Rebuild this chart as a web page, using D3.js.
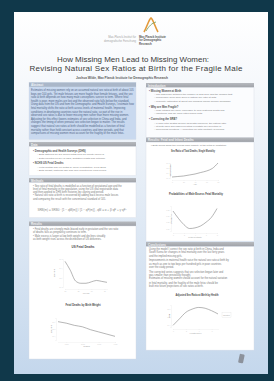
<!DOCTYPE html>
<html>
<head>
<meta charset="utf-8">
<script src="https://cdn.jsdelivr.net/npm/d3@7"></script>
<style>
body{margin:0;background:#10384a;overflow:hidden}
text{font-family:"Liberation Sans",Arial,sans-serif}
</style>
</head>
<body>
<script>
// ---- poster text ----
var titleLines = ["How Missing Men Lead to Missing Women:", "Revising Natural Sex Ratios at Birth for the Fragile Male"];
var authorLine = "Joshua Wilde, Max Planck Institute for Demographic Research";
var instituteDe = ["Max-Planck-Institut für", "demografische Forschung"];
var instituteEn = ["Max Planck Institute", "for Demographic", "Research"];
var headerNames = ["Abstract", "Data", "Methods", "Results", "Introduction", "Results: Fetal and Infant Deaths", "Conclusions"];

var abstractLines = [
  "Estimates of missing women rely on an assumed natural sex ratio at birth of about 105",
  "boys per 100 girls. Yet male fetuses are more fragile than female fetuses, and the sex",
  "ratio at birth depends on how many male conceptions survive to term. Where fetal",
  "health is poor, more males are lost and the observed ratio falls below the standard.",
  "Using data from the US and from the Demographic and Health Surveys, I estimate how",
  "fetal mortality shifts the ratio at birth across levels of maternal health. Improving",
  "conditions in developing countries raise the natural ratio, so part of the rise in",
  "observed sex ratios is due to fewer missing men rather than more missing women.",
  "Adjusting for this effect lowers estimates of sex selection in China and India, and",
  "changes the timing of when prenatal sex selection began to matter. The results",
  "suggest that natural sex ratios at birth should be modelled as a function of fetal",
  "mortality rather than held constant across countries and time periods, and that",
  "comparisons of missing women must account for the fragility of the male fetus."
];
var dataBlocks = [
  {head: "Demographic and Health Surveys (DHS)", lines: ["Birth histories for 2.5 million births from 87 country surveys", "Data reported on sex of child, gestation length and outcome"]},
  {head: "NCHS US Fetal Deaths", lines: ["Fetal deaths and live births by week of gestation, 1995-2005", "Birth weight, maternal age and race reported for each record"]}
];
var methodsLines = [
  "Sex ratio of fetal deaths is modelled as a function of gestational age and the",
  "level of fetal mortality in the population, using the US vital registration data",
  "and then applied to DHS birth histories by country and period.",
  "Natural sex ratio at birth is recovered by adding back excess male losses",
  "and comparing the result with the conventional standard of 105."
];
var methodsFormula = "SRB(m) = SRB0 · [1 − qM(m)] / [1 − qF(m)] ,  qM = α + β·qF + γ·qF²";
var resultsLeftLines = [
  "Fetal deaths are strongly male-biased early in gestation and the sex ratio",
  "of deaths falls as pregnancy continues to term.",
  "Male excess is larger at low birth weight and declines steadily",
  "as birth weight rises across the distribution of US deliveries."
];
var introBlocks = [
  {head: "Missing Women at Birth", lines: ["The difference between the number of girls born and the number that", "would have been born given a natural sex ratio at birth", "Currently estimated at about one hundred million women worldwide"]},
  {head: "Why are Men Fragile?", lines: ["Male fetuses are more vulnerable to poor maternal health and", "infections, and die more often before birth"]},
  {head: "Correcting the SRB?", lines: ["If male fetal deaths decline as health improves, the natural ratio", "at birth rises and observed ratios overstate sex selection in", "developing countries. A correction for fetal mortality is needed"]}
];
var resultsRightIntro = "Both series show the excess male fragility of the fetus by gestation";
var conclusionLines = [
  "Using the model I correct the sex ratio at birth in China, India and",
  "South Korea for changes in fetal mortality over the last forty years",
  "and the implied missing girls.",
  "Improvements in maternal health raise the natural sex ratio at birth by",
  "as much as one to two boys per hundred girls in poor countries",
  "over the study period.",
  "The corrected series suggests that sex selection began later and",
  "was smaller than previously thought.",
  "Estimates of missing women should account for the natural variation",
  "in fetal mortality, and the fragility of the male fetus should be",
  "built into future projections of sex ratios at birth."
];

// ---- chart series ----
var fetalWeeks = [20, 22, 24, 26, 28, 30, 32, 34, 36];
var fetalDeathRatio = [1.55, 1.36, 1.13, 1.08, 1.08, 1.11, 1.14, 1.12, 1.10];
var birthWeight = [500, 1000, 1500, 2000, 2500, 3000, 3500, 4000];
var weightDeathRatio = [1.30, 1.28, 1.25, 1.23, 1.19, 1.16, 1.13, 1.10];
var ageGroups = [0, 10, 20, 30, 40, 50, 60, 70, 80];
var totalDeathRatio = [1.02, 1.03, 1.04, 1.06, 1.08, 1.11, 1.14, 1.19, 1.30];
var mortalityLevel = [0, 1, 2, 3, 4, 5, 6, 7, 8];
var excessMaleProb = [1.14, 1.08, 1.03, 1.00, 1.005, 1.02, 1.05, 1.09, 1.16];
var healthIndex = [0, 1, 2, 3, 4, 5, 6, 7];
var adjustedSRB = [1.00, 1.08, 1.16, 1.20, 1.22, 1.21, 1.18, 1.14];

var W = 274, H = 381;
var svg = d3.select("body").append("svg").attr("width", W).attr("height", H);
var defs = svg.append("defs");
var g1 = defs.append("linearGradient").attr("id", "bg").attr("x1", 0).attr("y1", 0).attr("x2", 0).attr("y2", 1);
g1.append("stop").attr("offset", 0).attr("stop-color", "#ffffff");
g1.append("stop").attr("offset", 0.3).attr("stop-color", "#f1f5fa");
g1.append("stop").attr("offset", 1).attr("stop-color", "#c4d7ec");
var g2 = defs.append("linearGradient").attr("id", "hd").attr("x1", 0).attr("y1", 0).attr("x2", 0).attr("y2", 1);
g2.append("stop").attr("offset", 0).attr("stop-color", "#b7babf");
g2.append("stop").attr("offset", 1).attr("stop-color", "#9ea1a7");

svg.append("rect").attr("width", W).attr("height", H).attr("fill", "#10384a");
svg.append("rect").attr("x", 14).attr("y", 12).attr("width", 254).attr("height", 362).attr("fill", "url(#bg)");

// fit a text line into a width, only squeezing when too long
function line(sel, x, y, str, size, maxW, fill, weight, anchor) {
  var t = sel.append("text").attr("x", x).attr("y", y).attr("font-size", size)
    .attr("fill", fill).attr("font-weight", weight || "normal")
    .attr("text-anchor", anchor || "start").text(str);
  if (t.node().getComputedTextLength() > maxW)
    t.attr("textLength", maxW).attr("lengthAdjust", "spacingAndGlyphs");
  return t;
}

// ---- logo + header ----
svg.append("path").attr("d", "M144,32 C147,27 149,19 151,18 C153,19 155,27 158,32")
  .attr("fill", "none").attr("stroke", "#e39a3b").attr("stroke-width", 1.6);
svg.append("path").attr("d", "M146,31 C149,26 152,23 156,22").attr("fill", "none")
  .attr("stroke", "#6f9a5a").attr("stroke-width", 0.8);
instituteDe.forEach(function (s, i) { line(svg, 136, 38 + i * 3.6, s, 2.8, 32, "#a5a5a5", "normal", "end"); });
instituteEn.forEach(function (s, i) { line(svg, 139, 38 + i * 3.4, s, 2.8, 37, "#555", "bold"); });

line(svg, 133, 62, titleLines[0], 8, 152, "#3a3a3a", "normal", "middle").attr("textLength", 152);
line(svg, 136, 71, titleLines[1], 8, 213, "#3a3a3a", "normal", "middle").attr("textLength", 213);
line(svg, 122, 78.5, authorLine, 3.3, 92, "#5a5a5a", "bold", "middle");

// ---- panels ----
function header(x, y, w, name) {
  svg.append("rect").attr("x", x).attr("y", y).attr("width", w).attr("height", 4.6).attr("fill", "url(#hd)");
  line(svg, x + 2, y + 3.5, name, 3, w - 4, "#f2f2f2", "bold");
}
function box(x, y, w, h, fill) {
  svg.append("rect").attr("x", x).attr("y", y).attr("width", w).attr("height", h)
    .attr("fill", fill || "#fff").attr("stroke", "#d6dde7").attr("stroke-width", 0.4);
}

var LX = 29, LW = 107, RX = 146, RW = 108;
var body = "#7a7a7a";
// abstract
box(LX, 82.5, LW, 57, "#c9d9ef");
svg.append("rect").attr("x", LX).attr("y", 82.5).attr("width", LW).attr("height", 4.3).attr("fill", "#aab7c9");
line(svg, LX + 2, 85.9, headerNames[0], 3, 40, "#eef2f7", "bold");
abstractLines.forEach(function (s, i) { line(svg, LX + 2, 91 + i * 3.6, s, 2.7, LW - 4, "#4f6486"); });

// data
header(LX, 142, LW, headerNames[1]);
box(LX, 146.6, LW, 29);
var dy = 151.7;
dataBlocks.forEach(function (b) {
  line(svg, LX + 4, dy, "• " + b.head, 2.7, 60, "#555", "bold"); dy += 3.4;
  b.lines.forEach(function (s) { line(svg, LX + 8, dy, "– " + s, 2.5, LW - 12, body); dy += 3.4; });
  dy += 2.3;
});

// methods
header(LX, 178, LW, headerNames[2]);
box(LX, 182.6, LW, 35);
methodsLines.forEach(function (s, i) { line(svg, LX + 4, 186.5 + i * 3.3, (i == 0 || i == 3 ? "• " : "  ") + s, 2.6, LW - 8, body); });
line(svg, LX + 53, 210.5, methodsFormula, 3, 96, "#8a8a8a", "normal", "middle");

// results left
header(LX, 221.5, LW, headerNames[3]);
box(LX, 226, LW, 133);
resultsLeftLines.forEach(function (s, i) { line(svg, LX + 4, 230 + i * 3.3, (i % 2 == 0 ? "• " : "  ") + s, 2.6, LW - 8, body); });

// intro right
header(RX, 83, RW, headerNames[4]);
box(RX, 87.6, RW, 50, "#fbfcfe");
var ry = 91.7;
introBlocks.forEach(function (b) {
  line(svg, RX + 3, ry, "• " + b.head, 2.7, 60, "#555", "bold"); ry += 3.3;
  b.lines.forEach(function (s) { line(svg, RX + 8, ry, "– " + s, 2.5, RW - 11, body); ry += 3.3; });
  ry += 2.8;
});

// results right
header(RX, 137.5, RW, headerNames[5]);
box(RX, 142.1, RW, 99);
line(svg, RX + 5, 145.5, "• " + resultsRightIntro, 2.5, 80, body);

// conclusions
header(RX, 242, RW, headerNames[6]);
box(RX, 246.6, RW, 103.5);
conclusionLines.forEach(function (s, i) { line(svg, RX + 3, 250 + i * 3.45 + Math.floor(i / 3) * 0.9, s, 2.6, RW - 8, body); });

// ---- charts ----
function chart(c) {
  var x = d3.scaleLinear().domain(d3.extent(c.xs)).range(c.xr);
  var y = d3.scaleLinear().domain(c.yd).range(c.yr);
  var gg = svg.append("g");
  line(gg, c.tx, c.ty, c.title, 3, c.tw, "#4a4a4a", "bold", "middle");
  var ax = gg.append("g").attr("transform", "translate(0," + (c.yr[0] + 2) + ")")
    .call(d3.axisBottom(x).ticks(4).tickSize(1).tickPadding(0.6));
  var ay = gg.append("g").attr("transform", "translate(" + (c.xr[0] - 2) + ",0)")
    .call(d3.axisLeft(y).ticks(3).tickSize(1).tickPadding(0.6));
  [ax, ay].forEach(function (a) {
    a.selectAll("path,line").attr("stroke", "#e4e4e4").attr("stroke-width", 0.3);
    a.selectAll("text").attr("font-size", 1.6).attr("fill", "#cccccc");
  });
  gg.append("text").attr("transform", "translate(" + c.ylx + "," + ((c.yr[0] + c.yr[1]) / 2) + ") rotate(-90)")
    .attr("text-anchor", "middle").attr("font-size", 2.2).attr("fill", "#808080").text(c.ylab);
  gg.append("text").attr("x", (c.xr[0] + c.xr[1]) / 2).attr("y", c.yr[0] + 7)
    .attr("text-anchor", "middle").attr("font-size", 2.2).attr("fill", "#a0a0a0").text(c.xlab);
  gg.append("path").datum(c.xs.map(function (d, i) { return [d, c.ys[i]]; }))
    .attr("d", d3.line().curve(d3.curveMonotoneX).x(function (d) { return x(d[0]); }).y(function (d) { return y(d[1]); }))
    .attr("fill", "none").attr("stroke", "#858585").attr("stroke-width", 0.6);
  return gg;
}

chart({title: "Sex Ratio of Total Deaths, Single Mortality", tx: 193, ty: 151.5, tw: 44,
  xs: ageGroups, ys: totalDeathRatio, xr: [172, 218], yr: [178, 163], yd: [1.0, 1.3],
  ylx: 170.5, ylab: "Male/Female", xlab: "Age"});
chart({title: "Probabilities of Male Excess Fetal Mortality", tx: 196, ty: 195, tw: 54,
  xs: mortalityLevel, ys: excessMaleProb, xr: [173, 217], yr: [231, 206], yd: [0.98, 1.18],
  ylx: 171.5, ylab: "Probability", xlab: "Fetal mortality"});
chart({title: "US Fetal Deaths", tx: 83, ty: 248, tw: 40,
  xs: fetalWeeks, ys: fetalDeathRatio, xr: [65, 107], yr: [287, 259], yd: [1.0, 1.6],
  ylx: 54.5, ylab: "Sex ratio", xlab: "Weeks"});
chart({title: "Fetal Deaths by Birth Weight", tx: 83, ty: 306, tw: 35,
  xs: birthWeight, ys: weightDeathRatio, xr: [58, 115], yr: [340, 318], yd: [1.05, 1.35],
  ylx: 51.5, ylab: "Sex ratio", xlab: "Grams"});
var ce = chart({title: "Adjusted Sex Ratio at Birth by Health", tx: 197, ty: 295.5, tw: 43,
  xs: healthIndex, ys: adjustedSRB, xr: [173, 218], yr: [327, 305], yd: [0.98, 1.25],
  ylx: 170, ylab: "SRB", xlab: "Health index"});
ce.append("rect").attr("x", 222).attr("y", 312.5).attr("width", 9).attr("height", 5)
  .attr("fill", "none").attr("stroke", "#ddd").attr("stroke-width", 0.3);
ce.append("text").attr("x", 223).attr("y", 315.8).attr("font-size", 1.8).attr("fill", "#aaa").text("adjusted");

// corner mark
svg.append("rect").attr("x", 239).attr("y", 354).attr("width", 5).attr("height", 9).attr("rx", 1)
  .attr("fill", "#8c929c").attr("transform", "rotate(12,241,358)");
</script>
</body>
</html>
